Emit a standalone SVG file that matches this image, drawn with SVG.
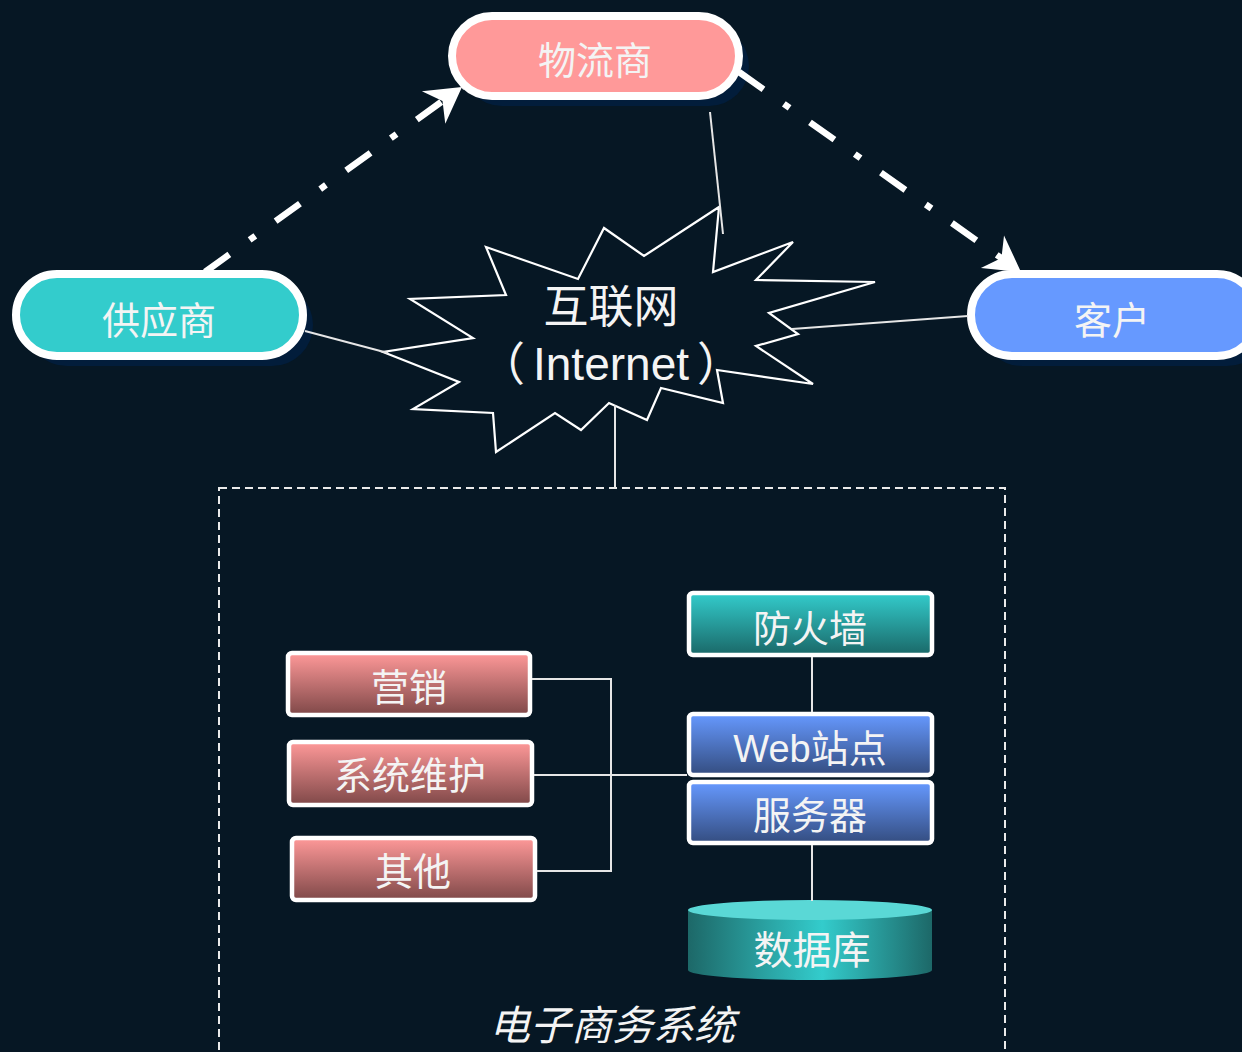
<svg xmlns="http://www.w3.org/2000/svg" width="1242" height="1052" viewBox="0 0 1242 1052">
<defs>
<style>
.pill{stroke:#fff;stroke-width:8}
.shadow{fill:#021d3b}
.lbl{font-family:"Noto Sans CJK SC",sans-serif;fill:#f4f4f4;text-anchor:middle}
.big{font-size:38px}
.box{stroke:#fff;stroke-width:4.5}
.thin{stroke:#e6e6e6;stroke-width:2;fill:none}
.dd{stroke:#fff;stroke-width:6.5;fill:none;stroke-dasharray:30 25 7 25}
</style>
<linearGradient id="gPink" x1="0" y1="0" x2="0" y2="1"><stop offset="0" stop-color="#FF9999"/><stop offset="1" stop-color="#7F4848"/></linearGradient>
<linearGradient id="gTeal" x1="0" y1="0" x2="0" y2="1"><stop offset="0" stop-color="#33CCCC"/><stop offset="1" stop-color="#1A6868"/></linearGradient>
<linearGradient id="gBlue" x1="0" y1="0" x2="0" y2="1"><stop offset="0" stop-color="#6699FF"/><stop offset="1" stop-color="#344D80"/></linearGradient>
<linearGradient id="gDb" x1="0" y1="0" x2="1" y2="0"><stop offset="0" stop-color="#1D6868"/><stop offset="0.55" stop-color="#33CCCC"/><stop offset="1" stop-color="#1D6868"/></linearGradient>
<marker id="stealth" markerUnits="userSpaceOnUse" markerWidth="40" markerHeight="44" viewBox="-36 -22 40 44" refX="0" refY="0" orient="auto">
<path d="M0,0 L-35,-20 L-24,0 L-35,20 Z" fill="#fff"/>
</marker>
</defs>
<rect width="1242" height="1052" fill="#061724"/>

<g id="node-wuliu">
<rect class="shadow" x="462" y="26" width="287" height="80" rx="40"/>
<rect class="pill" x="452" y="16" width="287" height="80" rx="40" fill="#FF9999"/>
<text class="lbl big" x="595" y="74">物流商</text>
</g>
<g id="node-gongying">
<rect class="shadow" x="26" y="284" width="287" height="82" rx="41"/>
<rect class="pill" x="16" y="274" width="287" height="82" rx="41" fill="#33CCCC"/>
<text class="lbl big" x="159" y="334">供应商</text>
</g>
<g id="node-kehu">
<rect class="shadow" x="981" y="284" width="287" height="82" rx="41"/>
<rect class="pill" x="971" y="274" width="287" height="82" rx="41" fill="#6699FF"/>
<text class="lbl big" x="1112" y="334">客户</text>
</g>
<g id="node-internet">
<polygon points="486,247 578,279 604,228 644,256 719,207 713,272 793,242 756,280 875,282 769,313 798,334 756,346 813,384 717,370 723,403 661,388 647,420 609,403 581,430 555,413 496,452 493,413 413,409 459,382 383,352 473,338 410,299 506,295" fill="none" stroke="#fff" stroke-width="2.2" stroke-linejoin="miter"/>
<text class="lbl" x="611" y="323" font-size="45">互联网</text>
<text class="lbl" x="611" y="380" font-size="46" style="font-family:'Liberation Sans','Noto Sans CJK SC',sans-serif"><tspan>（</tspan><tspan dx="8">Internet</tspan><tspan dx="8">）</tspan></text>
</g>

<g id="ecommerce-system">
<rect x="219" y="488" width="786" height="600" fill="none" stroke="#eaeaea" stroke-width="2" stroke-dasharray="8 5"/>
<text x="612" y="1040" font-size="41" font-style="italic" class="lbl">电子商务系统</text>
</g>

<g id="node-yingxiao">
<rect class="box" x="288" y="653" width="242" height="62" rx="4" fill="url(#gPink)"/>
<text class="lbl big" x="409" y="701">营销</text>
</g>
<g id="node-xitong">
<rect class="box" x="289" y="742" width="243" height="63" rx="4" fill="url(#gPink)"/>
<text class="lbl big" x="410" y="789">系统维护</text>
</g>
<g id="node-qita">
<rect class="box" x="292" y="838" width="243" height="62" rx="4" fill="url(#gPink)"/>
<text class="lbl big" x="413" y="885">其他</text>
</g>
<g id="node-fanghuoqiang">
<rect class="box" x="689" y="593" width="243" height="62" rx="4" fill="url(#gTeal)"/>
<text class="lbl big" x="810" y="642">防火墙</text>
</g>
<g id="node-web">
<rect class="box" x="689" y="714" width="243" height="61" rx="4" fill="url(#gBlue)"/>
<text class="lbl big" x="810" y="762" style="font-family:'Liberation Sans','Noto Sans CJK SC',sans-serif">Web站点</text>
</g>
<g id="node-fuwuqi">
<rect class="box" x="689" y="782" width="243" height="61" rx="4" fill="url(#gBlue)"/>
<text class="lbl big" x="810" y="829">服务器</text>
</g>
<g id="node-shujuku">
<path d="M688,910 L688,970 A122,10 0 0 0 932,970 L932,910 Z" fill="url(#gDb)"/>
<ellipse cx="810" cy="910" rx="122" ry="10" fill="#5AD8D6"/>
<text class="lbl" x="812" y="964" font-size="39">数据库</text>
</g>

<g id="connectors">
<path class="dd" d="M205,272 L462,87" marker-end="url(#stealth)"/>
<path class="dd" d="M739,72 L1021,272" marker-end="url(#stealth)"/>
<path class="thin" d="M710,112 L723,234"/>
<path class="thin" d="M305,331 L388,353"/>
<path class="thin" d="M968,316 L792,329"/>
<path class="thin" d="M615,405 L615,488"/>
<path class="thin" d="M532,679 L611,679 L611,871 L537,871"/>
<path class="thin" d="M534,775 L687,775"/>
<path class="thin" d="M812,657 L812,712"/>
<path class="thin" d="M812,845 L812,901"/>
</g>
</svg>
